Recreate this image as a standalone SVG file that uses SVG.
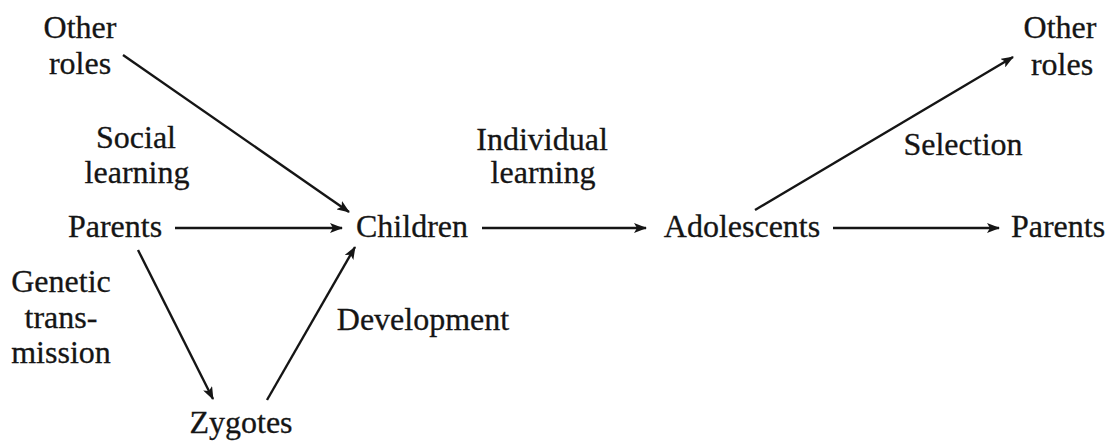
<svg xmlns="http://www.w3.org/2000/svg" width="1111" height="447" viewBox="0 0 1111 447">
<style>
text{font-size:32px;fill:#151515;stroke:#151515;stroke-width:0.3;text-anchor:middle}
.c{stroke:#151515;stroke-width:2.4;fill:none;marker-end:url(#ah)}
</style>
<defs>
<marker id="ah" markerUnits="userSpaceOnUse" markerWidth="14" markerHeight="10" refX="12" refY="5" orient="auto" viewBox="0 0 14 10">
<path d="M0,0 L13,5 L0,10 L3,5 Z" fill="#151515"/>
</marker>
</defs>
<rect width="1111" height="447" fill="#fff"/>
<g id="connectors">
<line class="c" x1="123" y1="55" x2="349" y2="212"/>
<line class="c" x1="175" y1="228" x2="342" y2="228"/>
<line class="c" x1="138" y1="250" x2="213" y2="399"/>
<line class="c" x1="267" y1="400" x2="355" y2="247"/>
<line class="c" x1="482" y1="228" x2="646" y2="228"/>
<line class="c" x1="755" y1="210" x2="1013" y2="57"/>
<line class="c" x1="833" y1="228" x2="999" y2="228"/>
</g>
<g font-family="Liberation Serif, Times New Roman, serif">
<g id="other-roles-left"><text x="80" y="38">Other</text><text x="80" y="74">roles</text></g>
<g id="social-learning"><text x="136" y="148">Social</text><text x="137" y="183">learning</text></g>
<g id="parents-left"><text x="115" y="237">Parents</text></g>
<g id="children"><text x="412" y="237">Children</text></g>
<g id="genetic-transmission"><text x="61" y="292">Genetic</text><text x="61" y="328">trans-</text><text x="61" y="363">mission</text></g>
<g id="zygotes"><text x="241" y="433">Zygotes</text></g>
<g id="development"><text x="423" y="330">Development</text></g>
<g id="individual-learning"><text x="542" y="150">Individual</text><text x="543" y="183">learning</text></g>
<g id="adolescents"><text x="742" y="237">Adolescents</text></g>
<g id="selection"><text x="963" y="155">Selection</text></g>
<g id="other-roles-right"><text x="1060" y="38">Other</text><text x="1062" y="75">roles</text></g>
<g id="parents-right"><text x="1058" y="237">Parents</text></g>
</g>
</svg>
